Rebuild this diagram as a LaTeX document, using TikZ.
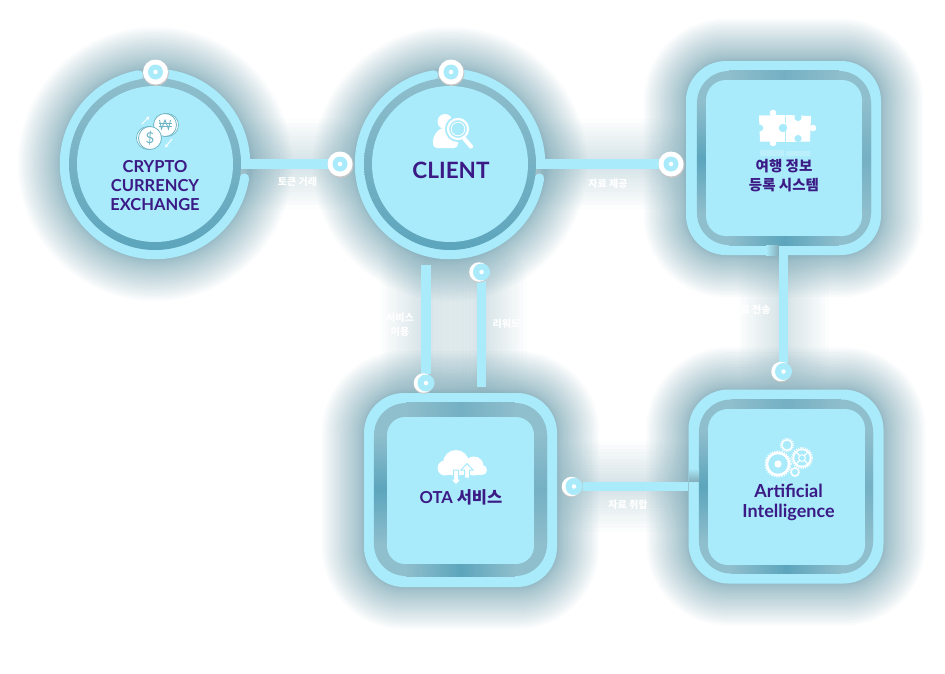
\documentclass[tikz,border=0pt]{standalone}
\usepackage{fontspec}
\setmainfont{Lato}
\newfontfamily\krfont{Noto Sans CJK KR}
\usepackage{xcolor}
\definecolor{rimblue}{HTML}{A9EBFB}
\definecolor{glowteal}{HTML}{6F9FAE}
\definecolor{titlenavy}{HTML}{3B1A85}
\definecolor{coinline}{HTML}{6DB6C6}
\definecolor{groovedark}{HTML}{5CA5BC}
\definecolor{groovemid}{HTML}{74B0C3}
\definecolor{groovelight}{HTML}{8FBECC}
\usetikzlibrary{positioning,calc,backgrounds,arrows.meta}
\tikzset{
	groove/.style={circle,inner sep=0,minimum size=172,top color=groovelight,bottom color=groovedark},
	facedisc/.style={circle,inner sep=0,minimum size=156,fill=rimblue},
	rimsquare/.style={rectangle,inner sep=0,minimum width=195,minimum height=194,rounded corners=40,fill=rimblue},
	groovesquare/.style={rectangle,inner sep=0,minimum width=174,minimum height=174,rounded corners=32,fill=groovelight},
	facesquare/.style={rectangle,inner sep=0,minimum size=156,rounded corners=20,fill=rimblue},
	wire/.style={draw=rimblue,line width=9.5},
	rimline/.style={draw=rimblue,line width=9.5},
	glow/.style={draw=glowteal,draw opacity=.045,line join=round},
	wireglow/.style={draw=glowteal,draw opacity=.022,line cap=round},
	title/.style={text=titlenavy,font=\fontsize{16.5}{19}\selectfont\bfseries,align=center,inner sep=0},
	krtitle/.style={text=titlenavy,font=\krfont\fontsize{14.5}{19}\selectfont\bfseries,align=center,inner sep=0},
	flowlabel/.style={text=white,font=\krfont\fontsize{10}{14}\selectfont\bfseries,align=center,inner sep=0},
	pinshadow/.style={circle,inner sep=0,minimum size=#1,fill=black!22},
	pinwhite/.style={circle,inner sep=0,minimum size=#1,fill=white},
	pinlight/.style={circle,inner sep=0,minimum size=#1,fill=rimblue},
	pindot/.style={circle,inner sep=0,minimum size=4.5,fill=white},
	iconline/.style={draw=white,line cap=round,line join=round},
}
% pin on a ring or at the end of a wire
\newcommand{\bigpin}[2]{
	\node[pinshadow=26] (#1shadow) at (#2) [xshift=.5pt,yshift=-1pt] {};
	\node[pinwhite=25] (#1white) at (#2) {};
	\node[pinlight=15] (#1) at (#2) {};
	\node[pindot] (#1dot) at (#2) {};
}
\newcommand{\smallpin}[2]{
	\node[pinshadow=20] (#1shadow) at (#2) [xshift=-2.5pt,yshift=-.7pt] {};
	\node[pinwhite=19.5] (#1white) at (#2) [xshift=-2.5pt] {};
	\node[pinlight=17] (#1) at (#2) {};
	\node[pindot] (#1dot) at (#2) {};
}
% darker bands along the sides of a square groove
\newcommand{\groovebands}[2]{
	\shade[top color=groovelight,bottom color=groovelight,middle color=groovedark] ($(#1.west |- #1.north)+(0,32)$) rectangle ($(#2.west |- #1.south)+(0,-32)$);
	\shade[top color=groovelight,bottom color=groovelight,middle color=groovemid] ($(#2.east |- #1.north)+(0,32)$) rectangle ($(#1.east |- #1.south)+(0,-32)$);
	\shade[left color=groovelight,right color=groovelight,middle color=groovemid] ($(#1.west |- #1.north)+(32,0)$) rectangle ($(#1.east |- #2.north)+(-32,0)$);
	\shade[left color=groovelight,right color=groovelight,middle color=groovedark] ($(#1.west |- #2.south)+(32,0)$) rectangle ($(#1.east |- #1.south)+(-32,0)$);
}

\begin{document}
\begin{tikzpicture}[x=1pt,y=-1pt]
	\useasboundingbox (0,0) rectangle (945,673);

	% grooves and faces
	\node[groove] (crypto) at (155,164) {};
	\node[facedisc] (cryptoface) at (155,164) {};
	\node[groove] (client) at (450,164) {};
	\node[facedisc] (clientface) at (450,164) {};

	\node[rimsquare] (travelrim) at (783.5,158) {};
	\node[groovesquare] (travel) at (784,158) {};
	\node[facesquare] (travelface) at (784,158) {};
	\groovebands{travel}{travelface}

	\node[rimsquare,minimum width=193] (otarim) at (460.5,490) {};
	\node[groovesquare,minimum width=173,minimum height=173] (ota) at (460.5,489.5) {};
	\node[facesquare,minimum width=147,minimum height=147,rounded corners=18] (otaface) at (460.5,490.5) {};
	\groovebands{ota}{otaface}

	\node[rimsquare] (airim) at (786,486.5) {};
	\node[groovesquare] (ai) at (786,486.5) {};
	\node[facesquare,minimum width=157] (aiface) at (786.5,487) {};
	\groovebands{ai}{aiface}

	% pins
	\bigpin{pincrypto}{155.5,72}
	\bigpin{pinclient}{451,72}
	\bigpin{pintoken}{340,164}
	\bigpin{pinsupply}{671,164}
	\smallpin{pinsend}{783.5,371.5}
	\smallpin{pinuse}{426,383}
	\smallpin{pinreward}{481.5,272}
	\smallpin{pincollect}{574,486.5}
	\coordinate (usetop) at (426,265);
	\coordinate (rewardend) at (481.5,387);

	\begin{scope}[on background layer]
		% glow round the shapes
		\foreach \i in {1,...,30}{
			\pgfmathsetmacro{\w}{84*(\i/30)^1.8}
			\draw[glow,line width=\w pt] (crypto.center) circle (95);
			\draw[glow,line width=\w pt] (client.center) circle (95);
			\draw[glow,line width=\w pt,rounded corners=40] (travelrim.south west) rectangle (travelrim.north east);
			\draw[glow,line width=\w pt,rounded corners=40] (otarim.south west) rectangle (otarim.north east);
			\draw[glow,line width=\w pt,rounded corners=40] (airim.south west) rectangle (airim.north east);
		}
		\foreach \i in {1,...,16}{
			\pgfmathsetmacro{\w}{90*(\i/16)^1.3}
			\draw[wireglow,line width=\w pt] (crypto) -- (pintoken);
			\draw[wireglow,line width=\w pt] (client) -- (pinsupply);
			\draw[wireglow,line width=\w pt] (usetop) -- (pinuse);
			\draw[wireglow,line width=\w pt] (pinreward) -- (rewardend);
			\draw[wireglow,line width=\w pt] (pinsend |- travelrim.south) -- (pinsend);
			\draw[wireglow,line width=\w pt] (pincollect) -- (airim.west |- pincollect);
		}
		% rings with their gaps
		\draw[rimline,line cap=round] (crypto.center) ++(100.5:90.5pt) arc[start angle=100.5,end angle=351,radius=90.5pt];
		\draw[rimline] (crypto.center) ++(0:90.5pt) arc[start angle=0,end angle=88,radius=90.5pt];
		\draw[rimline,line cap=round] (client.center) ++(100.5:90.5pt) arc[start angle=100.5,end angle=351,radius=90.5pt];
		\draw[rimline] (client.center) ++(0:90.5pt) arc[start angle=0,end angle=88,radius=90.5pt];
		% wires
		\draw[wire] (crypto) -- (pintoken);
		\draw[wire] (client) -- (pinsupply);
		\draw[wire] (pinsend |- travelrim.south) -- (pinsend);
		\draw[wire] (usetop) -- (pinuse);
		\draw[wire] (pinreward) -- (rewardend);
		\draw[wire] (pincollect) -- (airim.west |- pincollect);
	\end{scope}

	% small shade beside the wires
	\shade[left color=rimblue,right color=glowteal!85] (766,245.5) rectangle (778.5,255);
	\shade[top color=rimblue,bottom color=glowteal!85] (689,468) rectangle (699,481.5);

	% coins icon
	\draw[coinline,fill=white,line width=.7] (167,125) circle (11.5);
	\draw[coinline,fill=white,line width=.8] (165,125) circle (11.5);
	\draw[coinline,line width=.9] (159.5,120) -- (161.5,129) -- (165,120) -- (168.5,129) -- (170.5,120);
	\draw[coinline,line width=.8] (158.5,123.5) -- (171.5,123.5) (158.5,126.5) -- (171.5,126.5);
	\draw[coinline,fill=white,line width=.7] (148,138) circle (11.5);
	\draw[coinline,fill=white,line width=.8] (150,138) circle (11.5);
	\node[text=coinline,font=\fontsize{15}{15}\selectfont,inner sep=0] (dollar) at (150,138) {\$};
	\draw[iconline,line width=1,-{Stealth[length=3.5pt,width=3.5pt]}] (142,124) -- (149.5,116.5);
	\draw[iconline,line width=1,-{Stealth[length=3.5pt,width=3.5pt]}] (172,139) -- (165,147.5);

	% client icon
	\fill[white] (445,121.5) circle (7.5);
	\fill[white,rounded corners=4] (433,148) -- (433,137) -- (440,128) -- (450,128) -- (458,137) -- (458,148) -- cycle;
	\draw[rimblue,line width=2,fill=rimblue] (458,129) circle (12);
	\draw[white,line width=2.2,fill=rimblue] (458,129) circle (10);
	\draw[white,line width=.8] (458,129) circle (6.8);
	\draw[iconline,line width=4.2] (464.5,139) -- (471,146.5);

	% puzzle icon
	\fill[white] (759,115.5) -- (785,115) -- (785,142) -- (760,141.5) -- cycle;
	\fill[white] (786,115) -- (811,116) -- (810,141.5) -- (786,142) -- cycle;
	\fill[white] (773,113) circle (3.3) (773,143) circle (3.3) (813,128) circle (3.3);
	\fill[rimblue] (760,128) circle (3.3) (783,128) circle (4.2) (798,117.5) circle (3.6) (798,138.5) circle (3.6);
	\draw[white,line width=1] (785.5,124) arc[start angle=-60,end angle=60,radius=4.5pt];
	\fill[white,opacity=.22] (760,150) rectangle (784,156) (786,151) rectangle (810,156);

	% cloud icon
	\fill[white] (456,463) circle (13) (474,466) circle (9.5) (445,468) circle (7.5) (482,470) circle (5);
	\fill[white] (445,462) rectangle (482,475);
	\draw[rimblue,line width=1,fill=white] (453.5,470) -- (458.5,470) -- (458.5,479) -- (461.5,479) -- (456,485) -- (450.5,479) -- (453.5,479) -- cycle;
	\draw[rimblue,line width=1,fill=white] (464.5,478) -- (464.5,470) -- (461,470) -- (467,463.5) -- (473,470) -- (469.5,470) -- (469.5,478) -- cycle;

	% gears icon
	\draw[white,line width=2.4] (778,464) circle (11);
	\draw[white,line width=2,dash pattern=on 1.3pt off 1.2pt] (778,464) circle (12.6);
	\fill[white] (778,464) circle (3.6);
	\draw[white,line width=1.6] (802,458) circle (8.6);
	\draw[white,line width=1.6,dash pattern=on 1.2pt off 1.1pt] (802,458) circle (10.2);
	\draw[white,line width=1.2] (802,458) circle (3.2);
	\draw[white,line width=1.3] (796,452) -- (808,464) (796,464) -- (808,452);
	\fill[rimblue] (802,458) circle (2.6);
	\draw[white,line width=1.3] (787,445) circle (5.2);
	\draw[white,line width=1.2,dash pattern=on 1.1pt off 1pt] (787,445) circle (6.4);
	\draw[white,line width=1.2] (795,472) circle (3.8);
	\draw[white,line width=1,dash pattern=on 1pt off .9pt] (795,472) circle (4.7);
	\draw[white,opacity=.25,line width=1.2] (768,481) arc[start angle=200,end angle=340,radius=9pt];

	% titles
	\node[title] (cryptotext) at (155,186) {CRYPTO\\CURRENCY\\EXCHANGE};
	\node[title,font=\fontsize{22.5}{24}\selectfont\bfseries] (clienttext) at (451,170) {CLIENT};
	\node[krtitle] (traveltext) at (784,175.5) {여행 정보\\등록 시스템};
	\node[title] (otatext) at (461,497) {OTA {\krfont 서비스}};
	\node[title,font=\fontsize{18}{19.5}\selectfont\bfseries] (aitext) at (788.5,502.5) {Artificial\\Intelligence};

	% labels of the wires
	\node[flowlabel] (tokenlabel) at (297.5,182) {토큰 거래};
	\node[flowlabel] (supplylabel) at (608,183.5) {자료 제공};
	\node[flowlabel] (sendlabel) at (751,310) {자료 전송};
	\node[flowlabel] (uselabel) at (400,324.5) {서비스\\이용};
	\node[flowlabel] (rewardlabel) at (506.5,324) {리워드};
	\node[flowlabel] (collectlabel) at (628,505) {자료 취합};
\end{tikzpicture}
\end{document}
